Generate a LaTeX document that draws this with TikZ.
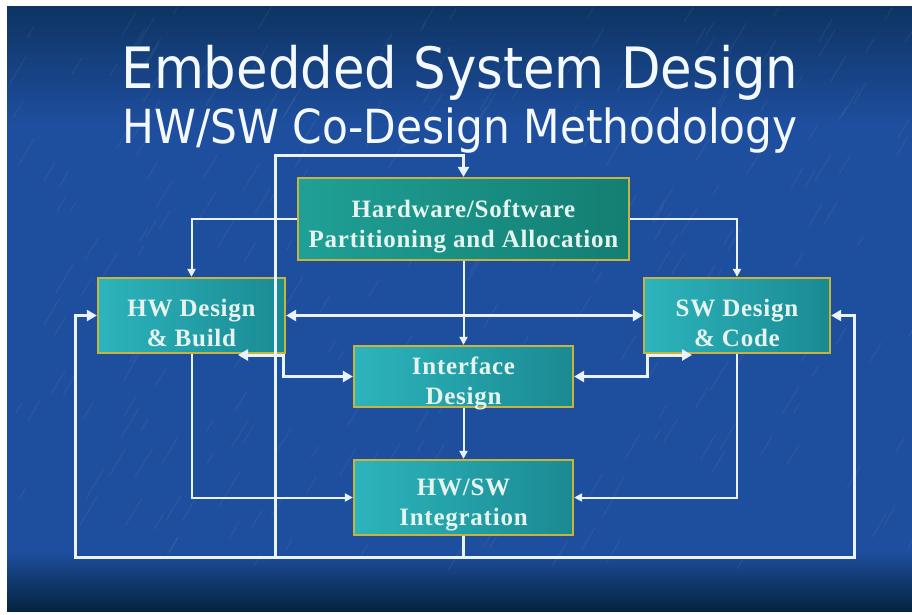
\documentclass[tikz,border=0pt]{standalone}
\usepackage{fontspec}
\setmainfont{Liberation Serif}
\newfontfamily\titlefont[FakeStretch=0.9]{DejaVu Sans}
\newfontfamily\boxfont[LetterSpace=3]{Liberation Serif}
\usetikzlibrary{arrows.meta}
\definecolor{bgtop}{HTML}{0E3463}
\definecolor{bgmid}{HTML}{1E4E9E}
\definecolor{bgbot}{HTML}{042440}
\definecolor{boxlight}{HTML}{2DB4BC}
\definecolor{boxdark}{HTML}{1A8A92}
\definecolor{partlight}{HTML}{1FA096}
\definecolor{partdark}{HTML}{147E72}
\definecolor{boxedge}{HTML}{C8B43C}
\definecolor{boxtext}{HTML}{E6F4F0}
\definecolor{linecol}{HTML}{EAF2FF}
\definecolor{titlecol}{HTML}{F4F8FF}
\newcommand{\toppad}{\rule{0pt}{32pt}}
\tikzset{
  stagebox/.style={draw=boxedge, line width=2.3pt, left color=boxlight, right color=boxdark,
    inner sep=0pt, align=center, text=boxtext,
    font=\boxfont\bfseries\fontsize{25}{30}\selectfont},
  partbox/.style={stagebox, left color=partlight, right color=partdark},
  titletext/.style={anchor=base, text=titlecol, inner sep=0pt},
  thinline/.style={draw=linecol, line width=2pt, -{Triangle[length=8pt,width=8pt]}},
  thickline/.style={draw=linecol, line width=3pt},
  thickarrow/.style={thickline, -{Triangle[length=10pt,width=11pt]}},
  bothways/.style={thickline, {Triangle[length=10pt,width=11pt]}-{Triangle[length=10pt,width=11pt]}},
  streak/.style={white, opacity=0.05, line width=1.2pt, line cap=round}
}
\begin{document}
\begin{tikzpicture}[x=1pt,y=-1pt]
\useasboundingbox (0,0) rectangle (912,614);
\fill[white] (0,0) rectangle (912,614);
\fill[bgmid] (7,6) rectangle (912,612);
% top gradient band
\foreach \i in {0,...,39}{
  \pgfmathsetmacro{\p}{100*\i/39}
  \fill[bgmid!\p!bgtop] (7,{6+3*\i}) rectangle (912,{6+3*\i+4});
}
% bottom dark band
\foreach \i in {0,...,29}{
  \pgfmathsetmacro{\p}{100*\i/29}
  \fill[bgmid!\p!bgbot] (7,{612-2*\i-3}) rectangle (912,{612-2*\i});
}
% background texture
\begin{scope}
\clip (7,6) rectangle (912,612);
\pgfmathsetseed{7}
\foreach \k in {1,...,260}{
  \pgfmathsetmacro{\sx}{10+rnd*900}
  \pgfmathsetmacro{\sy}{10+rnd*560}
  \pgfmathsetmacro{\sl}{8+rnd*22}
  \draw[streak] (\sx,\sy) -- ++(\sl*0.6,-\sl);
}
\end{scope}
% titles
\node[titletext, font=\titlefont\fontsize{57}{60}\selectfont] (t1) at (460,88) {Embedded System Design};
\node[titletext, font=\titlefont\fontsize{47}{50}\selectfont] (t2) at (460,143) {HW/SW Co-Design Methodology};
% boxes
\node[partbox, minimum width=331pt, minimum height=82pt] (part) at (463.5,219) {\toppad Hardware/Software\\Partitioning and Allocation};
\node[stagebox, minimum width=187pt, minimum height=75pt] (hw) at (191.5,315.5) {\toppad HW Design\\\& Build};
\node[stagebox, minimum width=186pt, minimum height=75pt] (sw) at (737,315.5) {\toppad SW Design\\\& Code};
\node[stagebox, inner ysep=-4pt, minimum width=219pt, minimum height=61pt] (iface) at (463.5,376.5) {\toppad Interface\\Design};
\node[stagebox, minimum width=219pt, minimum height=75pt] (integ) at (463.5,497.5) {\toppad HW/SW\\Integration};
% helper coordinates
\coordinate (fb) at (463.5,557);
\coordinate (fbl) at (75,557);
\coordinate (fbr) at (854,557);
\coordinate (fbm) at (275,557);
\coordinate (topl) at (275,155);
\coordinate (hwtip) at (238,355);
\coordinate (hwcorner) at (283,355);
\coordinate (swcorner) at (647,355);
\coordinate (swtip) at (692,355);
% connectors
\draw[thinline] (part.west) -| (hw.north);
\draw[thinline] (part.east) -| (sw.north);
\draw[thinline] (part.south) -- (iface.north);
\draw[thinline] (iface.south) -- (integ.north);
\draw[thinline] (hw.south) |- (integ.west);
\draw[thinline] (sw.south) |- (integ.east);
\draw[bothways] (hw.east) -- (sw.west);
\draw[bothways] (hwtip) -- (hwcorner) |- (iface.west);
\draw[bothways] (iface.east) -| (swcorner) -- (swtip);
\draw[thickline] (integ.south) -- (fb);
\draw[thickarrow] (fb) -- (fbl) |- (hw.west);
\draw[thickarrow] (fb) -- (fbr) |- (sw.east);
\draw[thickarrow] (fbm) -- (topl) -| (part.north);
\end{tikzpicture}
\end{document}
